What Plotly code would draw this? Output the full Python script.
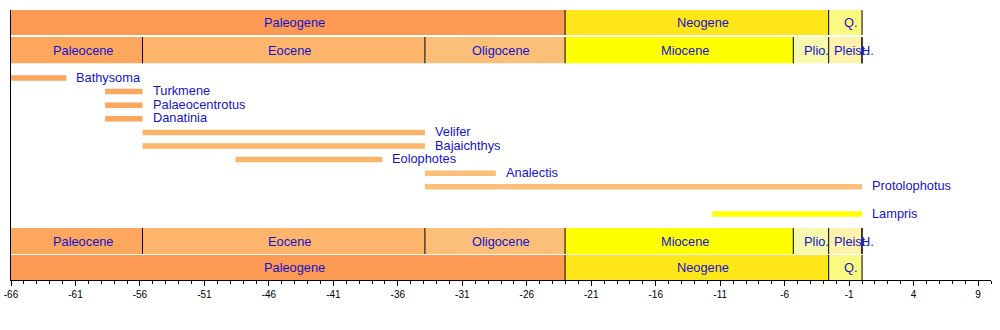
import plotly.graph_objects as go

# Geological time scale (Ma, negative = before present)
periods = ["Paleogene", "Neogene", "Q."]
period_start = [-66.0, -23.03, -2.588]
period_end = [-23.03, -2.588, 0.0]
period_colors = ["#FC9952", "#FFE619", "#FAFA80"]

epochs = ["Paleocene", "Eocene", "Oligocene", "Miocene", "Plio.", "Pleist.", "H."]
epoch_start = [-66.0, -55.8, -33.9, -23.03, -5.333, -2.588, -0.0117]
epoch_end = [-55.8, -33.9, -23.03, -5.333, -2.588, -0.0117, 0.0]
epoch_colors = ["#FCA65E", "#FCB56B", "#FCBF7A", "#FFFF00", "#F7FAAD", "#FFF2AD", "#FFF2E0"]

# Genus ranges
genera = ["Bathysoma", "Turkmene", "Palaeocentrotus", "Danatinia", "Velifer",
          "Bajaichthys", "Eolophotes", "Analectis", "Protolophotus", "Lampris"]
first_seen = [-66.0, -58.7, -58.7, -58.7, -55.8, -55.8, -48.6, -33.9, -33.9, -11.6]
last_seen = [-61.7, -55.8, -55.8, -55.8, -33.9, -33.9, -37.2, -28.4, 0.0, 0.0]
genus_colors = ["#FCA65E"] * 4 + ["#FCB56B"] * 3 + ["#FCBF7A"] * 2 + ["#FFFF00"]
genus_slots = [0, 1, 2, 3, 4, 5, 6, 7, 8, 10]

# Tick labels every 5 Ma from the start of the period
tick_values = list(range(-66, 10, 5))
tick_labels = [str(v) for v in tick_values]

TEXT = "#1414CC"
FONT = "Liberation Sans, Arial, Helvetica, sans-serif"

# Vertical layout in pixel units (y axis is in screen pixels, top = 10)
band_rows = [
    ("period", 22.5, 25.0),
    ("epoch", 50.2, 26.3),
    ("epoch", 241.0, 26.0),
    ("period", 267.5, 25.0),
]
first_row_y = 78.0
row_step = 13.6
bar_thick = 5.5

fig = go.Figure()

for kind, yc, h in band_rows:
    names, s, e, cols = (periods, period_start, period_end, period_colors) if kind == "period" \
        else (epochs, epoch_start, epoch_end, epoch_colors)
    fig.add_trace(go.Bar(
        orientation="h",
        base=s,
        x=[b - a for a, b in zip(s, e)],
        y=[yc] * len(names),
        width=h,
        marker=dict(color=cols, line=dict(width=0)),
        hoverinfo="skip",
        showlegend=False,
    ))
    for name, a, b in zip(names, s, e):
        fig.add_annotation(x=(a + b) / 2, y=yc, text=name, showarrow=False,
                           xshift=6, font=dict(family=FONT, size=12.8, color=TEXT))
    for a in s[1:] + [e[-1]]:
        fig.add_shape(type="line", x0=a, x1=a, y0=yc - h / 2, y1=yc + h / 2,
                      line=dict(color="black", width=1))

row_y = [first_row_y + k * row_step for k in genus_slots]
fig.add_trace(go.Bar(
    orientation="h",
    base=first_seen,
    x=[b - a for a, b in zip(first_seen, last_seen)],
    y=row_y,
    width=bar_thick,
    marker=dict(color=genus_colors, line=dict(width=0)),
    hoverinfo="skip",
    showlegend=False,
))
for name, end, y in zip(genera, last_seen, row_y):
    fig.add_annotation(x=end, y=y, text=name, showarrow=False, xanchor="left",
                       xshift=8, yshift=1, font=dict(family=FONT, size=12.8, color=TEXT))

fig.update_layout(
    width=1000, height=330,
    margin=dict(l=11, r=9, t=10, b=50, autoexpand=False),
    paper_bgcolor="white", plot_bgcolor="white",
    barmode="overlay",
    xaxis=dict(
        range=[-66, 10], showgrid=False, zeroline=False, automargin=False,
        showline=True, linecolor="black", linewidth=1,
        tickmode="array", tickvals=tick_values, ticktext=tick_labels,
        ticks="outside", ticklen=5, tickcolor="black", tickwidth=1,
        minor=dict(tickmode="linear", tick0=-66, dtick=1, ticks="outside",
                   ticklen=3, tickcolor="black", tickwidth=1, showgrid=False),
        tickfont=dict(family=FONT, size=10, color="black"),
    ),
    yaxis=dict(
        range=[280, 10], showgrid=False, zeroline=False, automargin=False,
        showline=True, linecolor="black", linewidth=1,
        showticklabels=False, ticks="",
    ),
)

fig.write_html("out.html")
